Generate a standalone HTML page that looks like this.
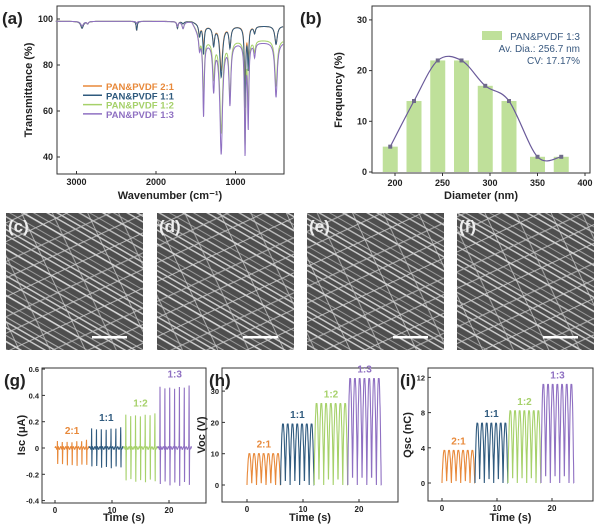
<!DOCTYPE html>
<html><head><meta charset="utf-8"><style>
html,body{margin:0;padding:0;background:#fff;}
svg{display:block;font-family:"Liberation Sans",Arial,sans-serif;}
</style></head><body>
<svg id="fig" width="600" height="529" viewBox="0 0 600 529" xmlns="http://www.w3.org/2000/svg">
<defs>
<pattern id="fib1" width="40" height="40" patternUnits="userSpaceOnUse" patternTransform="rotate(30)">
<rect width="40" height="40" fill="#4e4e4e"/>
<rect x="0" y="0" width="40" height="1.4" fill="#cfcfcf"/>
<rect x="0" y="7" width="40" height="1.1" fill="#a5a5a5"/>
<rect x="0" y="12" width="40" height="1.6" fill="#d8d8d8"/>
<rect x="0" y="19" width="40" height="1" fill="#9a9a9a"/>
<rect x="0" y="24" width="40" height="1.4" fill="#c0c0c0"/>
<rect x="0" y="31" width="40" height="1.1" fill="#b0b0b0"/>
<rect x="0" y="35" width="40" height="1.5" fill="#cccccc"/>
</pattern>
<pattern id="fib2" width="50" height="50" patternUnits="userSpaceOnUse" patternTransform="rotate(-25)">
<rect x="0" y="4" width="50" height="1.1" fill="#c8c8c8" opacity="0.8"/>
<rect x="0" y="21" width="50" height="1" fill="#d0d0d0" opacity="0.8"/>
<rect x="0" y="39" width="50" height="1.2" fill="#bbbbbb" opacity="0.8"/>
</pattern>
<pattern id="fib3" width="60" height="60" patternUnits="userSpaceOnUse" patternTransform="rotate(65)">
<rect x="0" y="10" width="60" height="1" fill="#d5d5d5" opacity="0.7"/>
<rect x="0" y="42" width="60" height="1.1" fill="#c5c5c5" opacity="0.7"/>
</pattern>
</defs>
<g id="sem"></g>
<g id="pa"></g>
<g id="pb"></g>
<g id="pg"></g>
<g id="ph"></g>
<g id="pi"></g>
</svg>
<script>
// ---------- data ----------
const seriesNames = ["PAN&PVDF 2:1","PAN&PVDF 1:1","PAN&PVDF 1:2","PAN&PVDF 1:3"];
const groupLabels = ["2:1","1:1","1:2","1:3"];
const colors = ["#e8893a","#2f5a7e","#a6d16a","#8f70c2"];
// FTIR peaks
const peakPos = [2930,2860,2243,1730,1660,1453,1402,1275,1180,1070,880,840,760,490];
const peakWidth = [20,12,8,10,15,12,10,14,20,14,9,9,12,18];
const depth21 = [3,1,4,3,1,5,10,8,19,9,30,15,3,8];
const depth11 = [3,1,4,3,1,5,12,8,22,9,35,18,3,8];
const depth12 = [2,1,1,2,3,6,28,16,40,24,45,30,5,20];
const depth13 = [2,1,1,2,3,6,32,20,48,26,48,36,6,24];
const depths = [depth21,depth11,depth12,depth13];
const baseHigh = [99,99,99,99];
const baseLow = [97,97,91,90];
const ftirXTicks = [3000,2000,1000];
const ftirYTicks = [40,60,80,100];
// histogram
const diamCats = [195,220,245,270,295,320,350,375];
const freq = [5,14,22,22,17,14,3,3];
const histXTicks = [200,250,300,350,400];
const histYTicks = [0,10,20,30];
// TENG outputs
const iscPos = [0.06,0.16,0.27,0.49];
const iscNeg = [-0.13,-0.15,-0.26,-0.29];
const vocAmp = [10,19.5,26,34];
const qscAmp = [3.7,6.8,8.2,11.2];
const timeTicks = [0,10,20];
const iscTicks = [-0.4,-0.2,0,0.2,0.4,0.6];
const vocTicks = [0,10,20,30];
const qscTicks = [0,4,8,12];

const NS="http://www.w3.org/2000/svg";
function mk(parent,tag,attrs,text){const e=document.createElementNS(NS,tag);for(const k in attrs)e.setAttribute(k,attrs[k]);if(text!==undefined)e.textContent=text;parent.appendChild(e);return e;}

// ---------- SEM ----------
const sem=document.getElementById('sem');
const semX=[6,157,307,457];const semL=["(c)","(d)","(e)","(f)"];
semX.forEach((x,i)=>{
 const r=mk(sem,'rect',{x:x,y:213,width:137,height:137,fill:'url(#fib1)'});
 
 
 const r2=mk(sem,'rect',{x:x,y:213,width:137,height:137,fill:'url(#fib2)'});
 
 
 const r3=mk(sem,'rect',{x:x,y:213,width:137,height:137,fill:'url(#fib3)'});
 
 
 const sb=mk(sem,'rect',{x:x+86,y:336,width:35,height:2.5,fill:'#fff'});
 
 
 const t=mk(sem,'text',{x:x+2,y:232,'font-size':17,'font-weight':'bold',fill:'#eee'},semL[i]);
 
 
});

function axesBox(g,x0,y0,x1,y1){const b=mk(g,'rect',{x:x0,y:y0,width:x1-x0,height:y1-y0,fill:'none',stroke:'#333','stroke-width':1});}
function label(g,x,y,txt,size,name,extra){const t=mk(g,'text',Object.assign({x:x,y:y,'font-size':size,'font-weight':'bold',fill:'#222'},extra||{}),txt);return t;}

// ---------- (a) FTIR ----------
(function(){
 const g=document.getElementById('pa');
 const X0=57,X1=284,Y0=6,Y1=174;
 const xs=v=>156+(2000-v)*0.0795;
 const ys=v=>19+(100-v)*2.3;
 axesBox(g,X0,Y0,X1,Y1);
 label(g,2,24,'(a)',17,'panel-label-a');
 ftirXTicks.forEach(v=>{mk(g,'line',{x1:xs(v),x2:xs(v),y1:Y1,y2:Y1-3,stroke:'#333'});label(g,xs(v),185,String(v),9,'x-tick-label',{'text-anchor':'middle'});});
 ftirYTicks.forEach(v=>{mk(g,'line',{x1:X0,x2:X0+3,y1:ys(v),y2:ys(v),stroke:'#333'});label(g,X0-4,ys(v)+3,String(v),9,'y-tick-label',{'text-anchor':'end'});});
 label(g,170,199,'Wavenumber (cm\u207B\u00B9)',11,'x-axis-title',{'text-anchor':'middle'});
 label(g,32,90,'Transmittance (%)',11,'y-axis-title',{'text-anchor':'middle',transform:'rotate(-90 32 90)'});
 for(let s=0;s<4;s++){
  let d='';
  for(let w=3260;w>=400;w-=3){
   const t=Math.min(1,Math.max(0,(1550-w)/150));
   let v=baseHigh[s]*(1-t)+baseLow[s]*t;
   for(let k=0;k<peakPos.length;k++){const z=(w-peakPos[k])/peakWidth[k];v-=depths[s][k]/(1+z*z);}
   d+=(d?'L':'M')+xs(w).toFixed(1)+','+ys(v).toFixed(1);
  }
  const p=mk(g,'path',{d:d,fill:'none',stroke:colors[s],'stroke-width':1});
  
  
  const ly=90+s*9.3;
  const ll=mk(g,'line',{x1:83,x2:102,y1:ly-4,y2:ly-4,stroke:colors[s],'stroke-width':1.5});
  
  
  label(g,106,ly,seriesNames[s],9.5,'legend-entry',{fill:colors[s]});
 }
})();

// ---------- (b) histogram ----------
(function(){
 const g=document.getElementById('pb');
 const X0=372,X1=590,Y0=6,Y1=173;
 const xs=v=>395+(v-200)*0.95;
 const ys=v=>172-v*5.07;
 axesBox(g,X0,Y0,X1,Y1);
 label(g,300,24,'(b)',17,'panel-label-b');
 histXTicks.forEach(v=>{mk(g,'line',{x1:xs(v),x2:xs(v),y1:Y1,y2:Y1+3,stroke:'#333'});label(g,xs(v),186,String(v),9,'x-tick-label',{'text-anchor':'middle'});});
 histYTicks.forEach(v=>{mk(g,'line',{x1:X0,x2:X0-3,y1:ys(v),y2:ys(v),stroke:'#333'});label(g,X0-5,ys(v)+3,String(v),9,'y-tick-label',{'text-anchor':'end'});});
 label(g,481,199,'Diameter (nm)',11,'x-axis-title',{'text-anchor':'middle'});
 label(g,342,90,'Frequency (%)',11,'y-axis-title',{'text-anchor':'middle',transform:'rotate(-90 342 90)'});
 const pts=[];
 diamCats.forEach((c,i)=>{
  const b=mk(g,'rect',{x:xs(c)-7.5,y:ys(freq[i]),width:15,height:ys(0)-ys(freq[i]),fill:'#bfe09a'});
  
  
  pts.push([xs(c),ys(freq[i])]);
 });
 let d='M'+pts[0][0]+','+pts[0][1];
 for(let i=0;i<pts.length-1;i++){
  const p0=pts[Math.max(0,i-1)],p1=pts[i],p2=pts[i+1],p3=pts[Math.min(pts.length-1,i+2)];
  d+=` C${p1[0]+(p2[0]-p0[0])/6},${p1[1]+(p2[1]-p0[1])/6} ${p2[0]-(p3[0]-p1[0])/6},${p2[1]-(p3[1]-p1[1])/6} ${p2[0]},${p2[1]}`;
 }
 const c=mk(g,'path',{d:d,fill:'none',stroke:'#6a5a9a','stroke-width':1.2});
 
 
 pts.forEach(p=>{const m=mk(g,'rect',{x:p[0]-2,y:p[1]-2,width:4,height:4,fill:'#6f6a8a'});});
 const sw=mk(g,'rect',{x:482,y:31,width:20,height:9,fill:'#bfe09a'});
 
 
 label(g,580,40,'PAN&PVDF 1:3',10,'legend-entry',{'text-anchor':'end',fill:'#3a5a80','font-weight':'normal'});
 label(g,580,52,'Av. Dia.: 256.7 nm',10,'average-diameter',{'text-anchor':'end',fill:'#3a5a80','font-weight':'normal'});
 label(g,580,64,'CV: 17.17%',10,'cv-value',{'text-anchor':'end',fill:'#3a5a80','font-weight':'normal'});
})();

// ---------- TENG panels ----------
function teng(id,letter,lx,X0,X1,Y1,t0x,pxPerS,ys,ticks,yname,type){
 const g=document.getElementById(id);
 const Y0=368;
 axesBox(g,X0,Y0,X1,Y1);
 label(g,lx,386,letter,17,'panel-label-'+letter.replace(/[()]/g,''));
 const xs=t=>t0x+t*pxPerS;
 timeTicks.forEach(v=>{mk(g,'line',{x1:xs(v),x2:xs(v),y1:Y1,y2:Y1-3,stroke:'#333'});label(g,xs(v),Y1+10,String(v),8,'x-tick-label',{'text-anchor':'middle'});});
 ticks.forEach(v=>{mk(g,'line',{x1:X0,x2:X0+3,y1:ys(v),y2:ys(v),stroke:'#333'});label(g,X0-3,ys(v)+3,String(v),7.5,'y-tick-label',{'text-anchor':'end'});});
 label(g,(X0+X1)/2,521,'Time (s)',11,'x-axis-title',{'text-anchor':'middle'});
 label(g,X0-17,435,yname,11,'y-axis-title',{'text-anchor':'middle',transform:`rotate(-90 ${X0-17} 435)`});
 for(let s=0;s<4;s++){
  let d='';
  const tStart=s*6;
  for(let t=tStart;t<=tStart+6.001;t+=0.02){
   let v;
   const ph=(t-tStart)/0.85; const f=ph-Math.floor(ph);
   if(type==='isc'){
    const pk=Math.exp(-Math.pow((f-0.5)/0.03,2))*iscPos[s]+Math.exp(-Math.pow((f-0.56)/0.03,2))*iscNeg[s];
    v=pk+0.01*Math.sin(ph*12);
    if(t>tStart+5.9) v=0;
   } else {
    const amp=type==='voc'?vocAmp[s]:qscAmp[s];
    v=amp*Math.min(1,Math.pow(Math.sin(Math.PI*f),0.8)*1.03);
    if(t>tStart+5.95) v=0;
   }
   d+=(d?'L':'M')+xs(t).toFixed(1)+','+ys(v).toFixed(1);
  }
  const p=mk(g,'path',{d:d,fill:'none',stroke:colors[s],'stroke-width':1.1});
  
  
  const top=type==='isc'?iscPos[s]:(type==='voc'?vocAmp[s]:qscAmp[s]);
  label(g,xs(tStart+3),ys(top)-6,groupLabels[s],10,'group-label',{'text-anchor':'middle',fill:colors[s]});
 }
}
teng('pg','(g)',4,42,206,503,55,5.7,v=>448-v*131.5,iscTicks,'Isc (\u03BCA)','isc');
teng('ph','(h)',209,222,398,502,247,5.6,v=>485-v*3.13,vocTicks,'Voc (V)','voc');
teng('pi','(i)',400,428,593,501,442,5.5,v=>483-v*8.8,qscTicks,'Qsc (nC)','qsc');
</script>
</body></html>
